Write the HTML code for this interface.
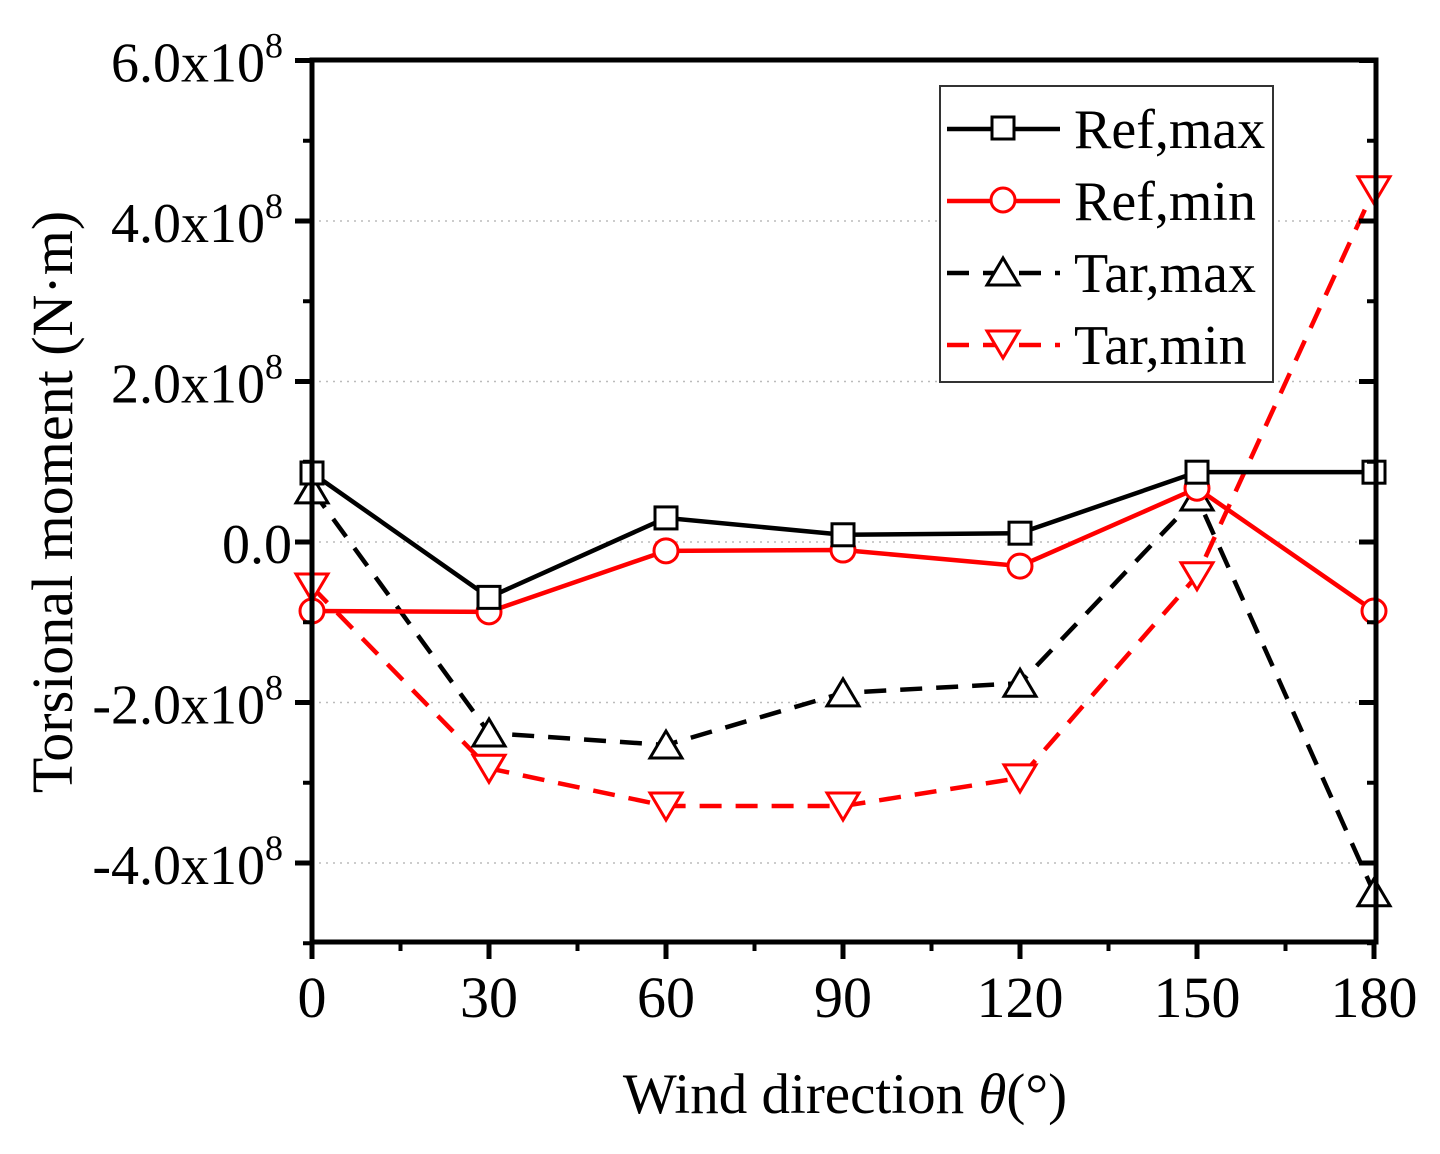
<!DOCTYPE html>
<html><head><meta charset="utf-8"><style>
body{margin:0;background:#fff}
svg text{font-family:"Liberation Serif",serif;fill:#000}
</style></head><body>
<svg id="chart" width="1440" height="1149" viewBox="0 0 1440 1149">
<g id="grid"></g>
<g id="series"></g>
<g id="axes"></g>
<text x="845" y="1113" font-size="57" text-anchor="middle">Wind direction <tspan font-style="italic">θ</tspan>(°)</text>
<text transform="translate(72,502) rotate(-90)" font-size="58" text-anchor="middle">Torsional moment (N·m)</text>
<g id="legend"></g>
</svg>
<script>
const categories=[0,30,60,90,120,150,180];
const refMax=[0.86,-0.69,0.30,0.09,0.11,0.87,0.87];
const refMin=[-0.86,-0.87,-0.11,-0.10,-0.30,0.67,-0.86];
const tarMax=[0.65,-2.38,-2.53,-1.88,-1.76,0.56,-4.37];
const tarMin=[-0.56,-2.82,-3.29,-3.29,-2.94,-0.42,4.39];
const yTicks=[-4,-2,0,2,4,6];
const yTickLabels=["-4.0x10","-2.0x10","0.0","2.0x10","4.0x10","6.0x10"];
const xTicks=[0,30,60,90,120,150,180];
const NS="http://www.w3.org/2000/svg";
const L=312,R=1376,T=60,B=942;
const X0=312,X1=1374;
const sx=v=>X0+(v-0)/(180)*(X1-X0);
const sy=v=>542-v*80.25;
function el(t,a,p){const e=document.createElementNS(NS,t);for(const k in a)e.setAttribute(k,a[k]);p.appendChild(e);return e;}
const grid=document.getElementById('grid'),axes=document.getElementById('axes'),ser=document.getElementById('series'),leg=document.getElementById('legend');
yTicks.forEach((v,i)=>{
 if(v>-5&&v<6){const g=el('line',{x1:L,x2:R,y1:sy(v),y2:sy(v),stroke:'#bbb','stroke-width':1.5,'stroke-dasharray':'2,5'},grid);
 
 }
 const t=el('line',{x1:L-17,x2:L,y1:sy(v),y2:sy(v),stroke:'#000','stroke-width':5},axes);
 
 
 const t2=el('line',{x1:R-17,x2:R,y1:sy(v),y2:sy(v),stroke:'#000','stroke-width':5},axes);
 
 
 const tx=el('text',{x:v===0?292:283,y:sy(v)+21,'font-size':56,'text-anchor':'end'},axes);
 
 
 tx.textContent=yTickLabels[i];
 if(v!==0){const s=el('tspan',{dy:-24,'font-size':36},tx);s.textContent='8';}
});
[-5,-3,-1,1,3,5].forEach(v=>{
 const m=el('line',{x1:L-9,x2:L,y1:sy(v),y2:sy(v),stroke:'#000','stroke-width':4},axes);
 
 
 const m2=el('line',{x1:R-9,x2:R,y1:sy(v),y2:sy(v),stroke:'#000','stroke-width':4},axes);
 
 
});
xTicks.forEach(v=>{
 const t=el('line',{x1:sx(v),x2:sx(v),y1:B,y2:B+17,stroke:'#000','stroke-width':5},axes);
 
 
 const tx=el('text',{x:sx(v),y:1017,'font-size':58,'text-anchor':'middle'},axes);
 
 
 tx.textContent=v;
});
[15,45,75,105,135,165].forEach(v=>{
 const m=el('line',{x1:sx(v),x2:sx(v),y1:B,y2:B+9,stroke:'#000','stroke-width':4},axes);
 
 
});
const frame=el('rect',{x:L,y:T,width:R-L,height:B-T,fill:'none',stroke:'#000','stroke-width':5},axes);


function marker(type,x,y,c,p){
 let m;
 if(type==='sq')m=el('rect',{x:x-11,y:y-11,width:22,height:22,fill:'#fff',stroke:c,'stroke-width':3},p);
 else if(type==='ci')m=el('circle',{cx:x,cy:y,r:12,fill:'#fff',stroke:c,'stroke-width':3},p);
 else if(type==='up')m=el('polygon',{points:`${x},${y-14} ${x-16},${y+13} ${x+16},${y+13}`,fill:'#fff',stroke:c,'stroke-width':3},p);
 else m=el('polygon',{points:`${x},${y+14} ${x-16},${y-13} ${x+16},${y-13}`,fill:'#fff',stroke:c,'stroke-width':3},p);
 return m;
}
const series=[
 {name:'Ref,max',d:refMax,c:'#000',dash:null,m:'sq'},
 {name:'Ref,min',d:refMin,c:'#f00',dash:null,m:'ci'},
 {name:'Tar,max',d:tarMax,c:'#000',dash:'22,14',m:'up'},
 {name:'Tar,min',d:tarMin,c:'#f00',dash:'22,14',m:'dn'}];
series.slice().reverse().forEach(s=>{
 const g=el('g',{},ser);
 
 
 const pts=s.d.map((v,i)=>sx(categories[i])+','+sy(v)).join(' ');
 const a={points:pts,fill:'none',stroke:s.c,'stroke-width':4.5};
 if(s.dash)a['stroke-dasharray']=s.dash;
 const pl=el('polyline',a,g);
 
 
 s.d.forEach((v,i)=>{const mk=marker(s.m,sx(categories[i]),sy(v),s.c,g);
  
  });
});
const box=el('rect',{x:940,y:86,width:333,height:296,fill:'#fff',stroke:'#333','stroke-width':2},leg);


series.forEach((s,i)=>{
 const y=129+i*72;
 const g=el('g',{},leg);
 
 
 const a={x1:947,x2:1060,y1:y,y2:y,stroke:s.c,'stroke-width':4.5};
 if(s.dash)a['stroke-dasharray']='22,14';
 el('line',a,g);
 marker(s.m,1003,y-1,s.c,g);
 const t=el('text',{x:1074,y:y+19,'font-size':56},g);
 t.textContent=s.name;
});
</script>
</body></html>
